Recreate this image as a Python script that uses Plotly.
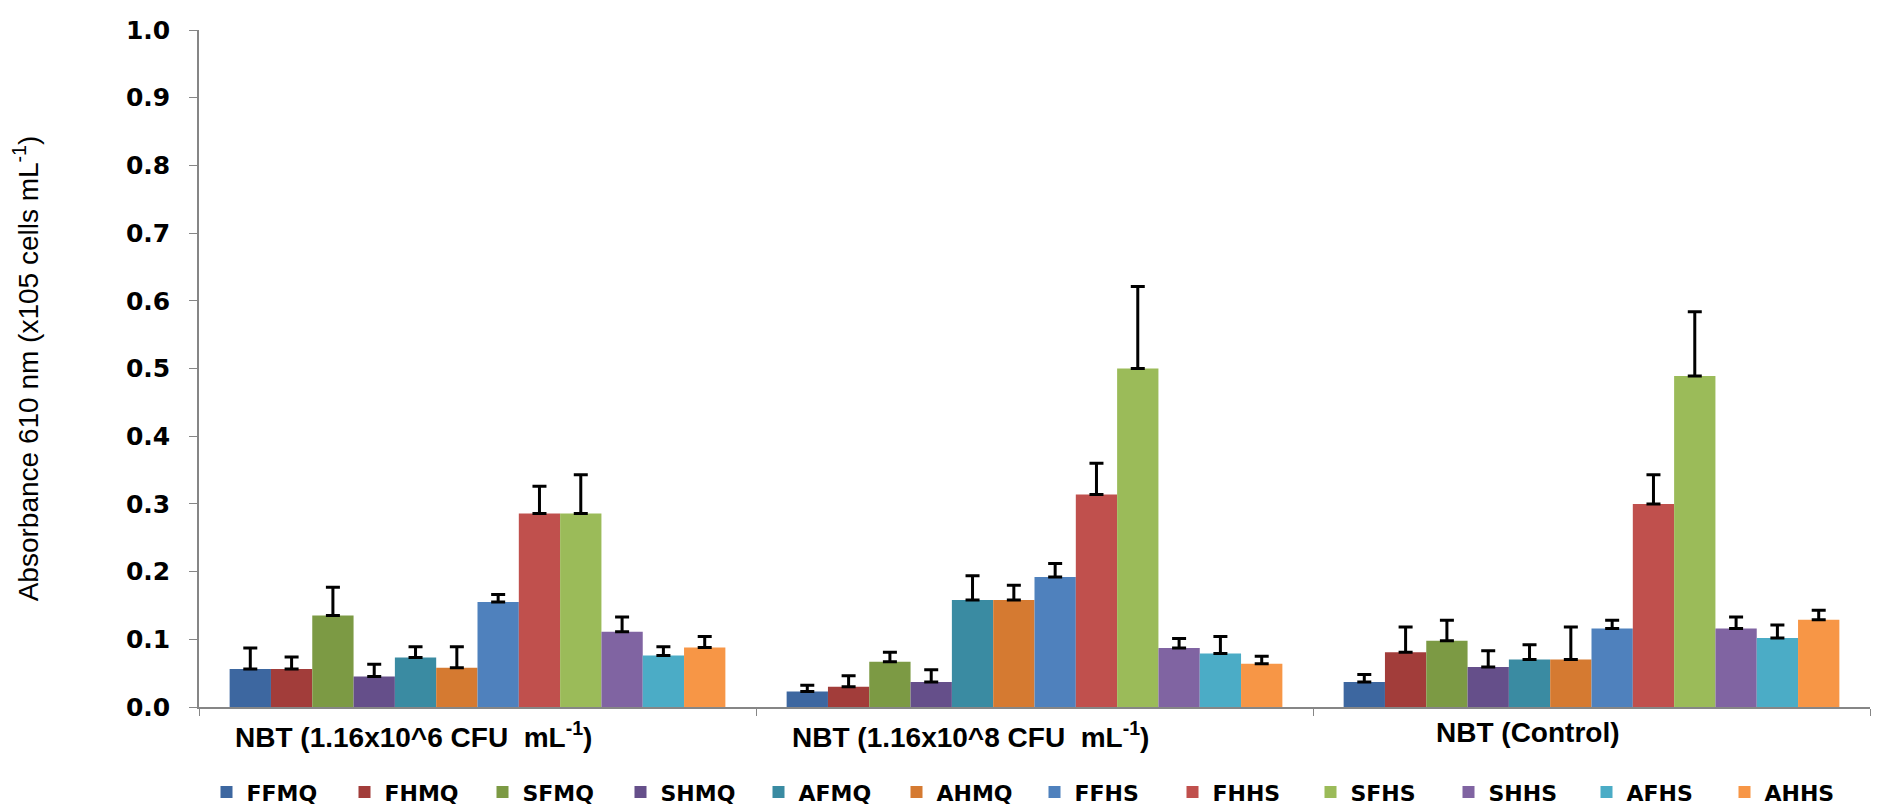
import plotly.graph_objects as go

categories = ["NBT (1.16x10^6 CFU\u00a0 mL<sup>-1</sup>)",
              "NBT (1.16x10^8 CFU\u00a0 mL<sup>-1</sup>)",
              "NBT (Control)"]

series_names = ["FFMQ", "FHMQ", "SFMQ", "SHMQ", "AFMQ", "AHMQ",
                "FFHS", "FHHS", "SFHS", "SHHS", "AFHS", "AHHS"]

FFMQ = [0.056, 0.023, 0.037]
FHMQ = [0.056, 0.030, 0.081]
SFMQ = [0.135, 0.067, 0.098]
SHMQ = [0.045, 0.037, 0.059]
AFMQ = [0.073, 0.158, 0.070]
AHMQ = [0.058, 0.158, 0.070]
FFHS = [0.155, 0.192, 0.116]
FHHS = [0.286, 0.314, 0.300]
SFHS = [0.286, 0.500, 0.489]
SHHS = [0.111, 0.087, 0.116]
AFHS = [0.076, 0.079, 0.102]
AHHS = [0.088, 0.064, 0.129]

FFMQ_err = [0.031, 0.009, 0.011]
FHMQ_err = [0.018, 0.016, 0.037]
SFMQ_err = [0.042, 0.014, 0.030]
SHMQ_err = [0.018, 0.018, 0.024]
AFMQ_err = [0.016, 0.036, 0.022]
AHMQ_err = [0.031, 0.022, 0.048]
FFHS_err = [0.011, 0.020, 0.012]
FHHS_err = [0.040, 0.046, 0.043]
SFHS_err = [0.057, 0.121, 0.095]
SHHS_err = [0.022, 0.014, 0.017]
AFHS_err = [0.013, 0.025, 0.019]
AHHS_err = [0.016, 0.011, 0.014]

values = [FFMQ, FHMQ, SFMQ, SHMQ, AFMQ, AHMQ, FFHS, FHHS, SFHS, SHHS, AFHS, AHHS]
errors = [FFMQ_err, FHMQ_err, SFMQ_err, SHMQ_err, AFMQ_err, AHMQ_err,
          FFHS_err, FHHS_err, SFHS_err, SHHS_err, AFHS_err, AHHS_err]

colors = ["#3D67A0", "#A23D3A", "#7C9A44", "#654F8A", "#3A8BA2", "#D57A31",
          "#4F81BD", "#C0504D", "#9BBB59", "#8064A2", "#4BACC6", "#F79646"]

y_ticks = [0.0, 0.1, 0.2, 0.3, 0.4, 0.5, 0.6, 0.7, 0.8, 0.9, 1.0]

fig = go.Figure()
for name, vals, errs, col in zip(series_names, values, errors, colors):
    fig.add_trace(go.Bar(
        name=name, x=categories, y=vals,
        marker=dict(color=col, line=dict(width=0)),
        error_y=dict(type="data", array=errs, arrayminus=[0] * len(errs),
                     symmetric=False, color="black", thickness=3, width=7),
    ))

# category labels, drawn slightly left of the group centre as in the reference
for cat in categories:
    fig.add_annotation(x=cat, xref="x", y=0, yref="paper", yanchor="top",
                       xanchor="center", yshift=-8, xshift=-64, showarrow=False,
                       text=cat,
                       font=dict(family="Liberation Sans, Arial", size=28,
                                 color="black", weight="bold"))

fig.update_layout(
    width=1886, height=808,
    barmode="group", bargap=0.11, bargroupgap=0,
    plot_bgcolor="white", paper_bgcolor="white",
    margin=dict(l=191, r=24, t=22, b=109, autoexpand=False),
    font=dict(family="Liberation Sans, Arial", color="black"),
    legend=dict(orientation="h", x=0.5, xanchor="center", y=-0.126, yanchor="middle",
                font=dict(family="DejaVu Sans", size=22, color="black", weight="bold"),
                entrywidth=93, itemwidth=30, tracegroupgap=0),
    xaxis=dict(showline=True, linecolor="#868686", linewidth=1.5,
               ticks="outside", tickson="boundaries", ticklen=7, tickcolor="#868686",
               showticklabels=False, showgrid=False),
    yaxis=dict(range=[0, 1.0], tickvals=y_ticks, tickformat=".1f",
               showline=True, linecolor="#868686", linewidth=1.5,
               ticks="outside", ticklen=8, tickcolor="#868686",
               ticklabelstandoff=14,
               tickfont=dict(family="DejaVu Sans", size=25, color="black", weight="bold"),
               showgrid=False, zeroline=False,
               title=dict(text="Absorbance 610 nm (x105 cells mL<sup>-1</sup>)",
                          font=dict(family="Liberation Sans, Arial", size=28, color="black"),
                          standoff=90)),
)

fig.write_html("out.html")
